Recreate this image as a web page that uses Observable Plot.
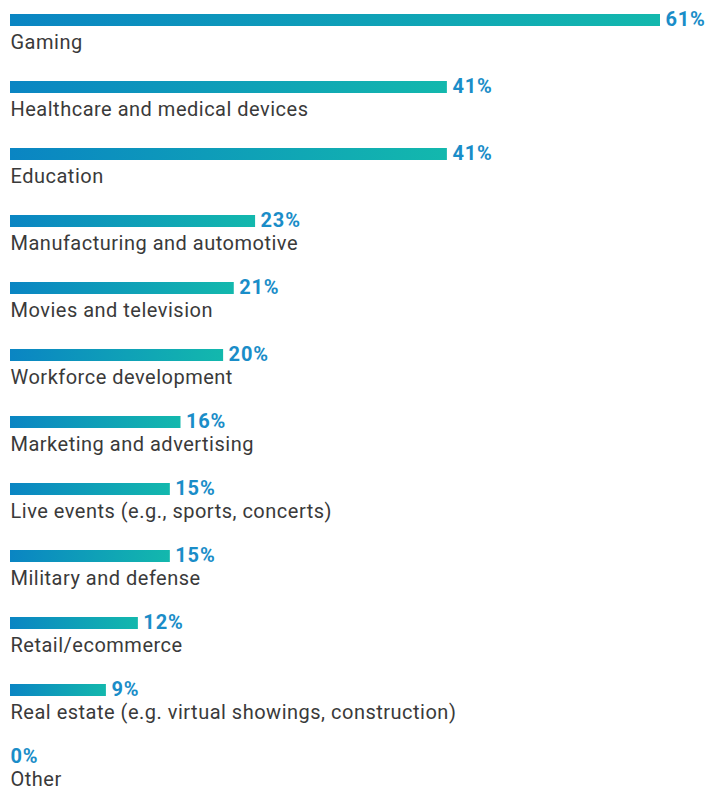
<!DOCTYPE html>
<html><head><meta charset="utf-8">
<script src="https://cdn.jsdelivr.net/npm/d3@7"></script>
<script src="https://cdn.jsdelivr.net/npm/@observablehq/plot@0.6"></script>
<style>
body{margin:0;background:#fff;}
</style>
</head><body><div id="chart"></div>
<script>
const categories = ["Gaming","Healthcare and medical devices","Education","Manufacturing and automotive","Movies and television","Workforce development","Marketing and advertising","Live events (e.g., sports, concerts)","Military and defense","Retail/ecommerce","Real estate (e.g. virtual showings, construction)","Other"];
const values = [61,41,41,23,21,20,16,15,15,12,9,0];
const data = categories.map((c,i)=>({category:c,value:values[i]}));

const defs = () => {
  const g = d3.create("svg:defs");
  const lg = g.append("linearGradient").attr("id","barGrad").attr("x1","0").attr("x2","1").attr("y1","0").attr("y2","0");
  lg.append("stop").attr("offset","0%").attr("stop-color","#0a85c3");
  lg.append("stop").attr("offset","100%").attr("stop-color","#13b8ad");
  return g.node();
};

const font = "Roboto, 'Noto Sans', sans-serif";
const plot = Plot.plot({
  width: 709, height: 792,
  marginLeft: 10, marginRight: 49, marginTop: 0, marginBottom: 0,
  x: {domain:[0,61], axis:null},
  y: {domain: categories, range:[14, 14+67*12], padding:0, axis:null},
  style: {fontFamily: font},
  marks: [
    defs,
    Plot.barX(data, {x:"value", y:"category", fill:"url(#barGrad)", insetTop:0, insetBottom:55}),
    Plot.text(data, {x:0, y:"category", text:"category", textAnchor:"start", lineAnchor:"bottom", dy:1, fontSize:20, fill:"#3a3a3a"}),
    Plot.text(data.filter(d=>d.value>0), {x:"value", y:"category", text:d=>d.value+"%", textAnchor:"start", lineAnchor:"middle", dx:5, dy:-28, fontSize:20, fontWeight:"bold", fill:"#1a8dc8"}),
    Plot.text(data.filter(d=>d.value===0), {x:"value", y:"category", text:d=>d.value+"%", textAnchor:"start", lineAnchor:"middle", dx:0, dy:-28, fontSize:20, fontWeight:"bold", fill:"#1a8dc8"})
  ]
});
const textGroups = plot.querySelectorAll('g[aria-label="text"]');
textGroups.forEach((g,i)=>{ g.style.letterSpacing = i===0 ? "0.5px" : "0.8px"; });
document.getElementById("chart").append(plot);
</script>
</body></html>
